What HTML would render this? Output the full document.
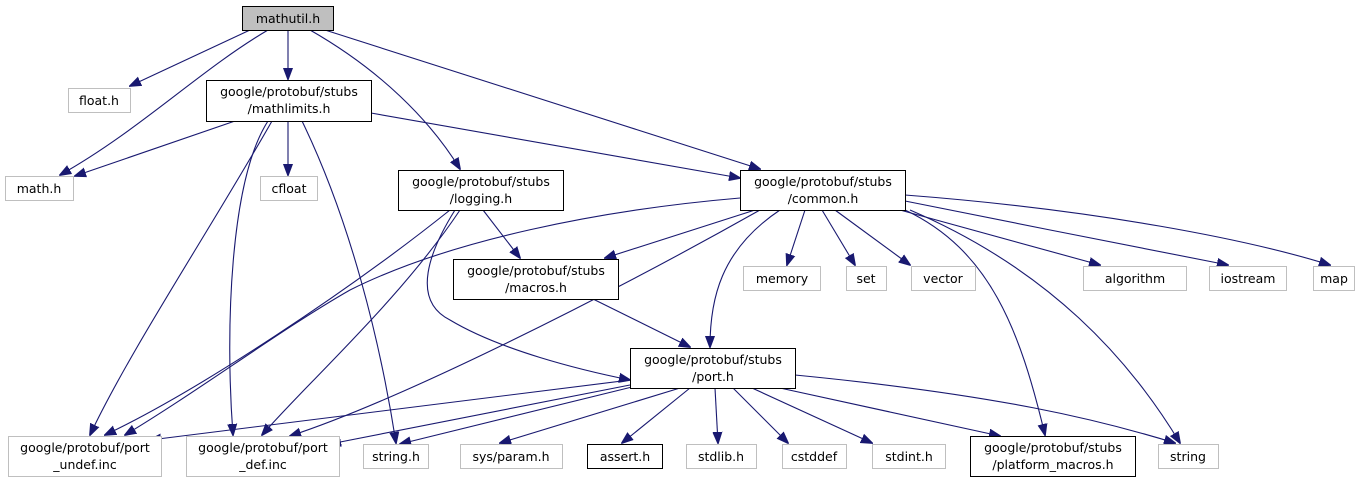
<!DOCTYPE html>
<html><head><meta charset="utf-8"><style>
html,body{margin:0;padding:0;background:#fff;}
svg{display:block;}
text{font-family:"DejaVu Sans","Liberation Sans",sans-serif;font-size:12.5px;fill:#000;}
.e{fill:none;stroke:#191970;stroke-width:1.1;marker-end:url(#a);}
.g{fill:#fff;stroke:#bfbfbf;}
.b{fill:#fff;stroke:#000;}
</style></head><body>
<svg width="1370" height="484" viewBox="0 0 1370 484" xmlns="http://www.w3.org/2000/svg">
<defs><marker id="a" viewBox="0 0 12 12" refX="11" refY="6" markerWidth="12" markerHeight="12" markerUnits="userSpaceOnUse" orient="auto"><path d="M0,1.5 L12,6 L0,10.5 z" fill="#191970" stroke="#191970"/></marker></defs>
<path class="e" d="M250,30 L130,86"/>
<path class="e" d="M268,30 C200,70 140,130 60,175"/>
<path class="e" d="M288,30 L288,79"/>
<path class="e" d="M310,30 C380,70 430,120 460,169"/>
<path class="e" d="M325,30 L760,169"/>
<path class="e" d="M235,121 L75,176"/>
<path class="e" d="M288,121 L288,175"/>
<path class="e" d="M371,113 L740,178"/>
<path class="e" d="M272,121 C210,230 130,350 90,435"/>
<path class="e" d="M268,121 C230,180 225,330 233,435"/>
<path class="e" d="M302,121 C350,220 380,340 396,443"/>
<path class="e" d="M450,210 C350,290 200,390 105,435"/>
<path class="e" d="M460,210 C400,300 310,380 262,435"/>
<path class="e" d="M483,210 L520,258"/>
<path class="e" d="M455,210 C430,250 410,300 450,320 C500,350 580,370 630,380"/>
<path class="e" d="M593,299 L690,347"/>
<path class="e" d="M740,198 C600,210 450,240 350,290 C280,330 200,390 125,435"/>
<path class="e" d="M755,210 L605,258"/>
<path class="e" d="M760,210 C600,300 400,400 290,436"/>
<path class="e" d="M780,210 C720,250 710,300 710,347"/>
<path class="e" d="M805,210 L787,265"/>
<path class="e" d="M822,210 L855,265"/>
<path class="e" d="M835,210 L910,265"/>
<path class="e" d="M900,210 L1100,265"/>
<path class="e" d="M905,201 C1000,220 1150,250 1228,265"/>
<path class="e" d="M905,195 C1100,210 1250,240 1330,265"/>
<path class="e" d="M905,210 C990,250 1020,330 1045,435"/>
<path class="e" d="M910,210 C1050,270 1130,360 1180,443"/>
<path class="e" d="M630,380 L150,440"/>
<path class="e" d="M630,385 L330,444"/>
<path class="e" d="M632,387 L400,444"/>
<path class="e" d="M680,388 L500,443"/>
<path class="e" d="M690,388 L622,443"/>
<path class="e" d="M715,388 L718,443"/>
<path class="e" d="M733,388 L788,443"/>
<path class="e" d="M752,388 L872,443"/>
<path class="e" d="M780,388 L1000,436"/>
<path class="e" d="M795,375 C1000,395 1100,420 1175,443"/>
<rect x="242.5" y="6.5" width="91" height="24" fill="#bfbfbf" stroke="#000"/><text x="288" y="23" text-anchor="middle">mathutil.h</text>
<rect class="g" x="68.5" y="88.5" width="62" height="24"/><text x="99" y="105" text-anchor="middle">float.h</text>
<rect class="b" x="206.5" y="80.5" width="165" height="41"/><text x="289" y="96" text-anchor="middle">google/protobuf/stubs</text><text x="289" y="113" text-anchor="middle">/mathlimits.h</text>
<rect class="g" x="5.5" y="176.5" width="68" height="24"/><text x="39" y="193" text-anchor="middle">math.h</text>
<rect class="g" x="260.5" y="176.5" width="57" height="24"/><text x="289" y="193" text-anchor="middle">cfloat</text>
<rect class="b" x="398.5" y="170.5" width="165" height="40"/><text x="481" y="186" text-anchor="middle">google/protobuf/stubs</text><text x="481" y="203" text-anchor="middle">/logging.h</text>
<rect class="b" x="740.5" y="170.5" width="165" height="40"/><text x="823" y="186" text-anchor="middle">google/protobuf/stubs</text><text x="823" y="203" text-anchor="middle">/common.h</text>
<rect class="b" x="453.5" y="259.5" width="165" height="40"/><text x="536" y="275" text-anchor="middle">google/protobuf/stubs</text><text x="536" y="292" text-anchor="middle">/macros.h</text>
<rect class="g" x="743.5" y="266.5" width="77" height="24"/><text x="782" y="283" text-anchor="middle">memory</text>
<rect class="g" x="846.5" y="266.5" width="40" height="24"/><text x="866" y="283" text-anchor="middle">set</text>
<rect class="g" x="911.5" y="266.5" width="64" height="24"/><text x="943" y="283" text-anchor="middle">vector</text>
<rect class="g" x="1083.5" y="266.5" width="103" height="24"/><text x="1135" y="283" text-anchor="middle">algorithm</text>
<rect class="g" x="1209.5" y="266.5" width="77" height="24"/><text x="1248" y="283" text-anchor="middle">iostream</text>
<rect class="g" x="1313.5" y="266.5" width="41" height="24"/><text x="1334" y="283" text-anchor="middle">map</text>
<rect class="b" x="630.5" y="348.5" width="165" height="40"/><text x="713" y="364" text-anchor="middle">google/protobuf/stubs</text><text x="713" y="381" text-anchor="middle">/port.h</text>
<rect class="g" x="8.5" y="436.5" width="153" height="40"/><text x="85" y="452" text-anchor="middle">google/protobuf/port</text><text x="85" y="469" text-anchor="middle">_undef.inc</text>
<rect class="g" x="186.5" y="436.5" width="153" height="40"/><text x="263" y="452" text-anchor="middle">google/protobuf/port</text><text x="263" y="469" text-anchor="middle">_def.inc</text>
<rect class="g" x="363.5" y="444.5" width="65" height="24"/><text x="396" y="461" text-anchor="middle">string.h</text>
<rect class="g" x="460.5" y="444.5" width="102" height="24"/><text x="511" y="461" text-anchor="middle">sys/param.h</text>
<rect class="b" x="587.5" y="444.5" width="75" height="24"/><text x="625" y="461" text-anchor="middle">assert.h</text>
<rect class="g" x="686.5" y="444.5" width="70" height="24"/><text x="721" y="461" text-anchor="middle">stdlib.h</text>
<rect class="g" x="782.5" y="444.5" width="64" height="24"/><text x="814" y="461" text-anchor="middle">cstddef</text>
<rect class="g" x="872.5" y="444.5" width="73" height="24"/><text x="909" y="461" text-anchor="middle">stdint.h</text>
<rect class="b" x="970.5" y="436.5" width="165" height="40"/><text x="1053" y="452" text-anchor="middle">google/protobuf/stubs</text><text x="1053" y="469" text-anchor="middle">/platform_macros.h</text>
<rect class="g" x="1158.5" y="444.5" width="60" height="24"/><text x="1188" y="461" text-anchor="middle">string</text>
</svg>
</body></html>
